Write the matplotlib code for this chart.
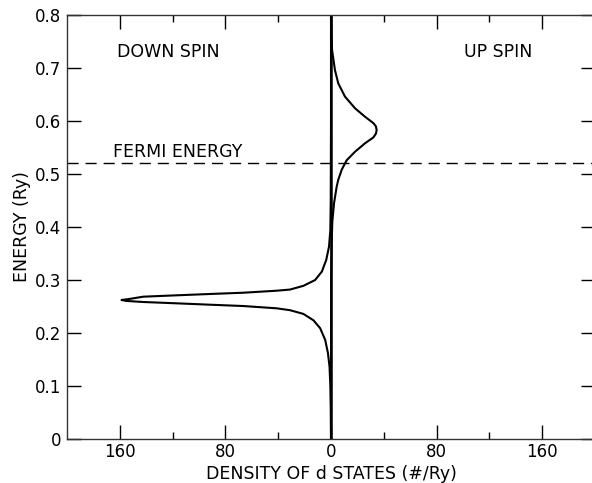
import matplotlib
matplotlib.use("Agg")
import matplotlib.pyplot as plt
from matplotlib.ticker import FixedLocator, FixedFormatter

# Down-spin density of d states (plotted to the left, negative x)
down_energy = [0.0, 0.06, 0.10, 0.136, 0.162, 0.187, 0.209, 0.224, 0.236, 0.243,
               0.2466, 0.2509, 0.2534, 0.256, 0.2585, 0.2605, 0.2623, 0.2645, 0.2685, 0.2711,
               0.2736, 0.276, 0.2798, 0.282, 0.289, 0.300, 0.316, 0.338, 0.363, 0.394,
               0.45, 0.60, 0.80]
down_density = [0.0, -0.2, -0.5, -1.1, -2.3, -4.4, -8.2, -13.3, -20.9, -31.0,
                -41.2, -66.5, -91.8, -117.0, -142.3, -155.0, -158.7, -152.0, -142.3, -117.0,
                -91.8, -66.5, -41.2, -31.0, -20.9, -12.0, -6.9, -3.6, -1.5, -0.5,
                -0.2, 0.0, 0.0]

# Up-spin density of d states (plotted to the right)
up_energy = [0.0, 0.30, 0.37, 0.41, 0.445, 0.476, 0.489, 0.508, 0.526, 0.542,
             0.558, 0.569, 0.576, 0.583, 0.590, 0.596, 0.608, 0.624, 0.646, 0.671,
             0.696, 0.734, 0.77, 0.80]
up_density = [0.0, 0.1, 0.5, 1.0, 2.3, 4.3, 5.5, 8.1, 11.9, 18.2,
              25.8, 32.1, 34.0, 34.6, 34.0, 32.1, 25.8, 18.2, 10.6, 5.5,
              3.0, 0.8, 0.3, 0.2]

fermi_energy = 0.52
x_major = [-160, -80, 0, 80, 160]
x_major_labels = ["160", "80", "0", "80", "160"]
x_minor = [-120, -40, 40, 120]
y_ticks = [0, 0.1, 0.2, 0.3, 0.4, 0.5, 0.6, 0.7, 0.8]
y_labels = ["0", "0.1", "0.2", "0.3", "0.4", "0.5", "0.6", "0.7", "0.8"]

plt.rcParams['font.family'] = ['DejaVu Sans']

fig = plt.figure(figsize=(5.92, 4.83), dpi=100)
ax = fig.add_axes([67/592, 1-439/483, (595-67)/592, (439-15)/483])

ax.plot(down_density, down_energy, color='black', lw=1.5, solid_joinstyle='round')
ax.plot(up_density, up_energy, color='black', lw=1.5, solid_joinstyle='round')
ax.axvline(0, color='black', lw=1.8)
ax.axhline(fermi_energy, color='black', lw=1.0, dashes=(8, 5))

ax.set_xlim(-200, 200)
ax.set_ylim(0, 0.8)

ax.xaxis.set_major_locator(FixedLocator(x_major))
ax.xaxis.set_major_formatter(FixedFormatter(x_major_labels))
ax.xaxis.set_minor_locator(FixedLocator(x_minor))
ax.yaxis.set_major_locator(FixedLocator(y_ticks))
ax.yaxis.set_major_formatter(FixedFormatter(y_labels))

ax.tick_params(axis='both', which='major', direction='in', length=10, width=1,
               labelsize=12, top=True, right=True, pad=4)
ax.tick_params(axis='x', which='minor', direction='in', length=5, width=1, top=True)
ax.tick_params(axis='x', which='major', pad=3)

for s in ax.spines.values():
    s.set_linewidth(1.0)
    s.set_color('#333333')

ax.set_xlabel("DENSITY OF d STATES (#/Ry)", fontsize=12.5, labelpad=3)
ax.set_ylabel("ENERGY (Ry)", fontsize=12.5, labelpad=3)

ax.text(-123, 0.73, "DOWN SPIN", fontsize=12.5, ha='center', va='center')
ax.text(127, 0.73, "UP SPIN", fontsize=12.5, ha='center', va='center')
ax.text(-116, 0.541, "FERMI ENERGY", fontsize=12.5, ha='center', va='center')

fig.savefig("out.png", dpi=100)
